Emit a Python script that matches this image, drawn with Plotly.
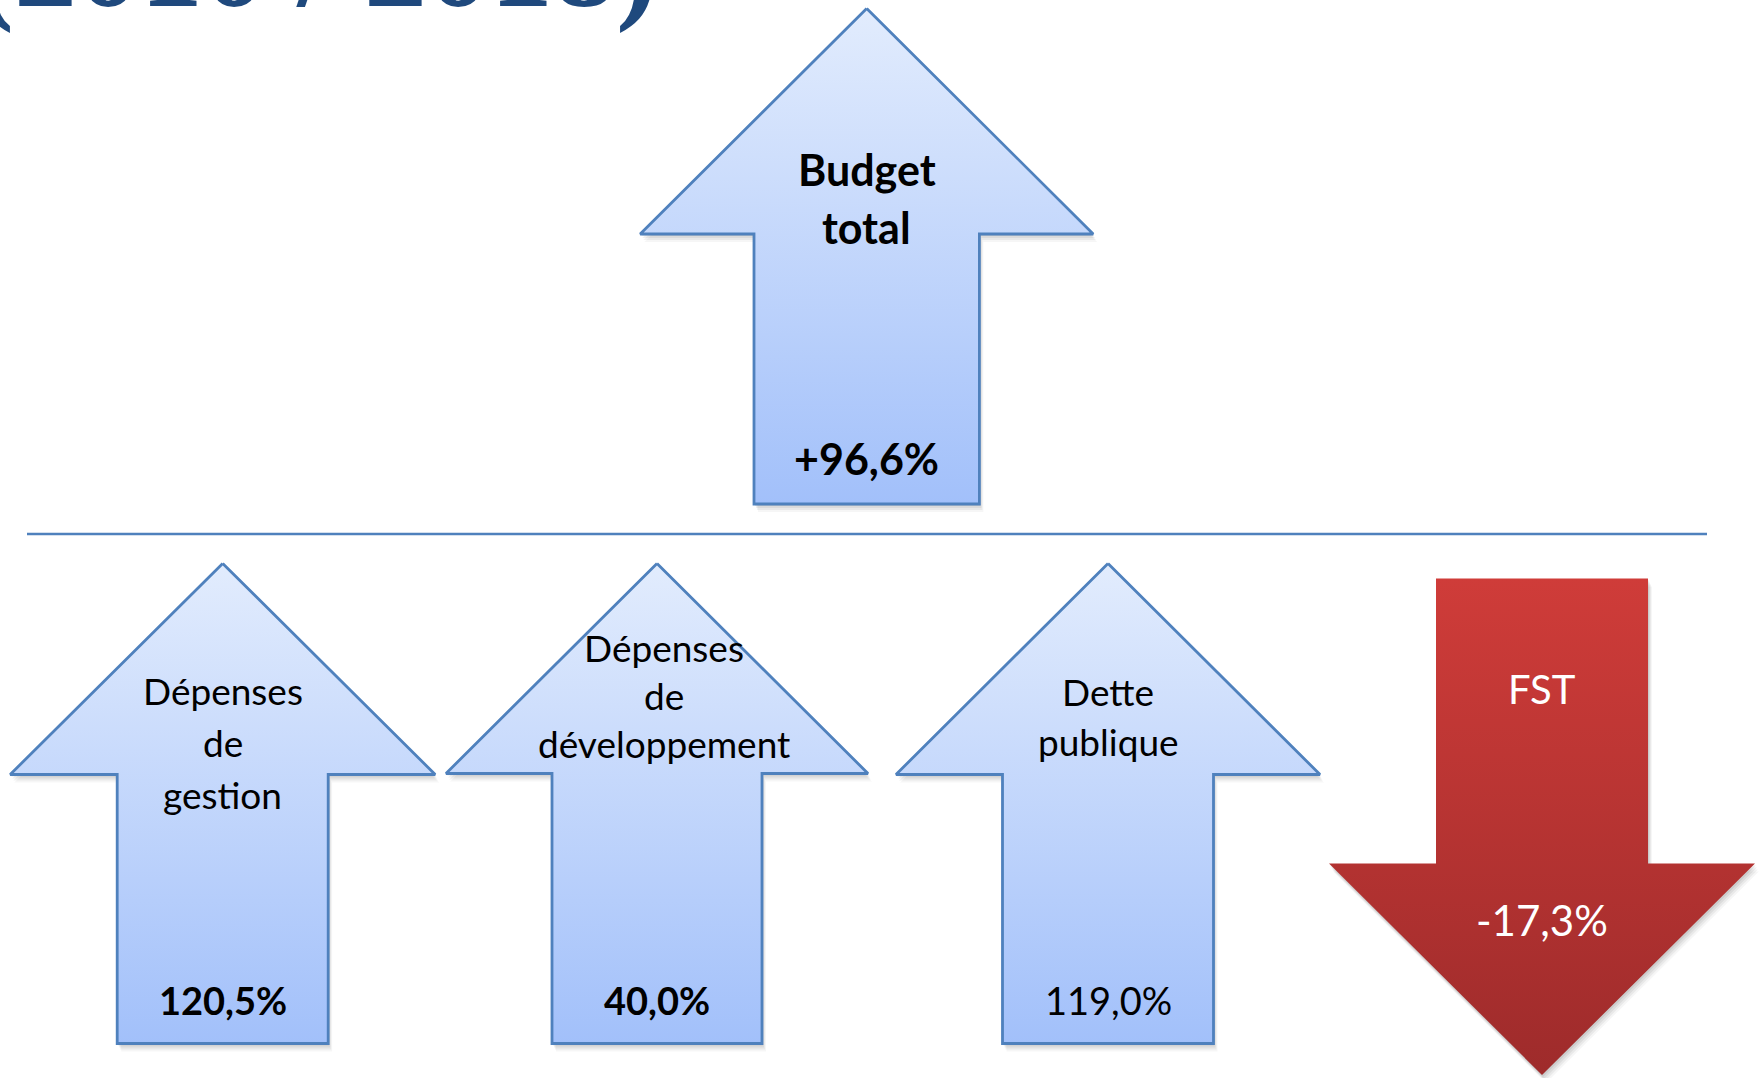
import plotly.graph_objects as go

# ---------------- data ----------------
categories = ["Budget total", "Dépenses de gestion", "Dépenses de développement",
              "Dette publique", "FST"]
label_lines = [["Budget", "total"], ["Dépenses", "de", "gestion"],
               ["Dépenses", "de", "développement"], ["Dette", "publique"], ["FST"]]
values = [96.6, 120.5, 40.0, 119.0, -17.3]
value_labels = ["+96,6%", "120,5%", "40,0%", "119,0%", "-17,3%"]
title_text = "(2010 / 2018)"

# ---------------- layout constants (pixels of the 1763x1078 page) ----------------
W, H = 1763, 1078
arrow_cx = [866.7, 222.7, 657.0, 1108.0, 1542.0]
arrow_top = [8.5, 563.5, 563.5, 563.5, 578.5]
arrow_shoulder = [234.0, 774.5, 773.5, 774.5, 863.5]
arrow_bottom = [504.0, 1043.5, 1043.5, 1043.5, 1075.0]
head_half = [226.5, 212.5, 211.0, 212.0, 213.0]
shaft_half = [112.7, 105.5, 105.0, 105.5, 106.0]
label_baselines = [[186, 244], [705, 756.5, 808.5], [662, 710, 758], [706, 756], [704]]
value_baselines = [475.5, 1015, 1015, 1015, 936.5]
label_dx = [0, 0, 7, 0, 0]
label_size = [43, 37, 37, 37, 40]
value_size = [43, 38, 38, 38, 42]
label_bold = [True, False, False, False, False]
value_bold = [True, True, True, False, False]

UP_TOP, UP_BOTTOM, UP_LINE = "#E2ECFD", "#A2C0FA", "#4F81BD"
DOWN_TOP, DOWN_BOTTOM = "#CF3C39", "#9E2B2B"
FONT = "Lato"
ASC = 0.387  # baseline -> middle offset for Lato (em)


def arrow_polygon(i, up):
    cx, t, s, b = arrow_cx[i], arrow_top[i], arrow_shoulder[i], arrow_bottom[i]
    hh, sh = head_half[i], shaft_half[i]
    if up:
        xs = [cx, cx + hh, cx + sh, cx + sh, cx - sh, cx - sh, cx - hh, cx]
        ys = [t, s, s, b, b, s, s, t]
    else:
        xs = [cx - sh, cx + sh, cx + sh, cx + hh, cx, cx - hh, cx - sh, cx - sh]
        ys = [t, t, s, s, b, s, s, t]
    return xs, ys


fig = go.Figure()

# soft drop shadows
for i, v in enumerate(values):
    xs, ys = arrow_polygon(i, v >= 0)
    for dx, dy, a in [(1, 2, 0.07), (2, 4, 0.06), (3, 6, 0.05), (4, 8, 0.035)]:
        fig.add_trace(go.Scatter(
            x=[x + dx for x in xs], y=[y + dy for y in ys], mode="lines",
            fill="toself", fillcolor=f"rgba(0,0,0,{a})", line=dict(width=0),
            hoverinfo="skip", showlegend=False))

# arrows (gradient runs along the data y values: 0 = bottom of page, 1 = top)
for i, v in enumerate(values):
    up = v >= 0
    xs, ys = arrow_polygon(i, up)
    fig.add_trace(go.Scatter(
        x=xs, y=ys, mode="lines", fill="toself", name=categories[i],
        fillgradient=dict(type="vertical",
                          colorscale=[[0, UP_BOTTOM if up else DOWN_BOTTOM],
                                      [1, UP_TOP if up else DOWN_TOP]]),
        line=dict(color=UP_LINE if up else "rgba(0,0,0,0)", width=2.8 if up else 0),
        hoverinfo="name", showlegend=False))

# texts
annotations = []
for i, v in enumerate(values):
    color = "#000000" if v >= 0 else "#FFFFFF"
    for line, bl in zip(label_lines[i], label_baselines[i]):
        s = label_size[i]
        txt = f"<b>{line}</b>" if label_bold[i] else line
        annotations.append(dict(x=arrow_cx[i] + label_dx[i], y=bl - ASC * s, text=txt,
                                xref="x", yref="y", showarrow=False,
                                xanchor="center", yanchor="middle",
                                font=dict(family=FONT, size=s, color=color)))
    s = value_size[i]
    txt = f"<b>{value_labels[i]}</b>" if value_bold[i] else value_labels[i]
    annotations.append(dict(x=arrow_cx[i], y=value_baselines[i] - ASC * s, text=txt,
                            xref="x", yref="y", showarrow=False,
                            xanchor="center", yanchor="middle",
                            font=dict(family=FONT, size=s, color=color)))

# cut-off slide title at the very top
annotations.append(dict(x=660, y=36, text=f"<b>{title_text}</b>", xref="x", yref="y",
                        showarrow=False, xanchor="right", yanchor="bottom",
                        font=dict(family="Liberation Serif", size=126, color="#1F497D")))

fig.update_layout(
    width=W, height=H, margin=dict(l=0, r=0, t=0, b=0),
    paper_bgcolor="white", plot_bgcolor="white",
    xaxis=dict(range=[0, W], visible=False, fixedrange=True),
    yaxis=dict(range=[H, 0], visible=False, fixedrange=True),
    shapes=[dict(type="line", xref="x", yref="y", x0=27, x1=1707, y0=534, y1=534,
                 line=dict(color="#4F81BD", width=2.5))],
    annotations=annotations,
)

fig.write_html("out.html", config={"displayModeBar": False},
               post_script="document.body.style.margin='0';document.body.style.overflow='hidden';")
